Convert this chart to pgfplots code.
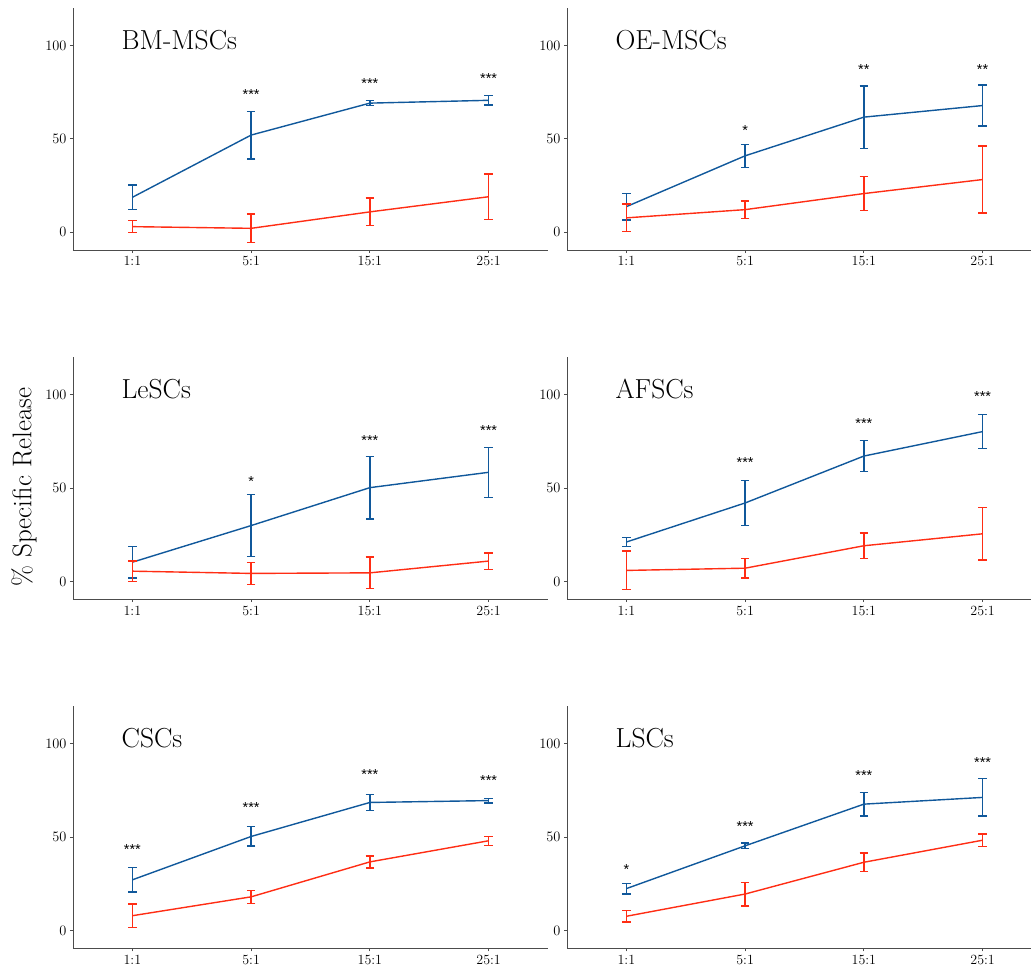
\documentclass[border=0pt]{standalone}
\usepackage{fontspec}
\usepackage{pgfplots}
\pgfplotsset{compat=1.18}
\newfontfamily\starfont{Liberation Sans}
\definecolor{cblue}{RGB}{16,88,155}
\definecolor{cred}{RGB}{255,45,20}

\pgfplotsset{
  panel/.style={
    scale only axis, width=475pt, height=242pt,
    xmin=-0.5, xmax=3.5, ymin=-9.5, ymax=120,
    axis x line*=bottom, axis y line*=left,
    axis line style={black!70, line width=0.9pt},
    xtick={0,1,2,3}, xticklabels={1:1,5:1,15:1,25:1},
    ytick={0,50,100},
    tick align=outside, major tick length=3pt,
    tick style={black!70, line width=0.8pt},
    tick label style={font=\fontsize{14}{14}\selectfont},
    clip=false,
  },
  errs/.style={
    error bars/.cd, y dir=both, y explicit,
    error bar style={line width=1.4pt, #1},
    error mark options={rotate=90, mark size=4.3pt, line width=1.4pt, #1},
  },
}
\newcommand{\ptitle}[1]{\node[anchor=base west, font=\fontsize{27.5}{27.5}\selectfont] at (axis cs:-0.12,97.9) {#1};}
\newcommand{\stars}[3]{\node[anchor=base, inner sep=0pt, font=\starfont\fontsize{14.5}{14.5}\selectfont] at (axis cs:#1,#2) {#3};}

\begin{document}
\begin{tikzpicture}

% BM-MSCs
\begin{axis}[panel, at={(73pt,-8pt)}, anchor=north west]
\addplot[cblue, line width=1.4pt, errs=cblue] coordinates {
  (0,18.7) +- (0,6.6) (1,52.0) +- (0,12.7) (2,69.1) +- (0,1.3) (3,70.6) +- (0,2.6)};
\addplot[cred, line width=1.4pt, errs=cred] coordinates {
  (0,3.0) +- (0,3.2) (1,2.1) +- (0,7.6) (2,10.9) +- (0,7.4) (3,19.0) +- (0,12.1)};
\ptitle{BM-MSCs}
\stars{1}{70.8}{***}\stars{2}{77.1}{***}\stars{3}{79.8}{***}
\end{axis}

% OE-MSCs
\begin{axis}[panel, at={(567pt,-8pt)}, anchor=north west]
\addplot[cblue, line width=1.4pt, errs=cblue] coordinates {
  (0,13.7) +- (0,7.1) (1,40.9) +- (0,6.1) (2,61.6) +- (0,16.7) (3,67.8) +- (0,10.9)};
\addplot[cred, line width=1.4pt, errs=cred] coordinates {
  (0,7.7) +- (0,7.4) (1,12.1) +- (0,4.7) (2,20.7) +- (0,9.1) (3,28.2) +- (0,18.0)};
\ptitle{OE-MSCs}
\stars{1}{51.7}{*}\stars{2}{84.6}{**}\stars{3}{84.6}{**}
\end{axis}

% LeSCs
\begin{axis}[panel, at={(73pt,-357.2pt)}, anchor=north west]
\addplot[cblue, line width=1.4pt, errs=cblue] coordinates {
  (0,10.3) +- (0,8.5) (1,29.9) +- (0,16.5) (2,50.2) +- (0,16.7) (3,58.4) +- (0,13.4)};
\addplot[cred, line width=1.4pt, errs=cred] coordinates {
  (0,5.5) +- (0,5.5) (1,4.3) +- (0,5.9) (2,4.6) +- (0,8.5) (3,10.9) +- (0,4.4)};
\ptitle{LeSCs}
\stars{1}{50.7}{*}\stars{2}{72.5}{***}\stars{3}{78.2}{***}
\end{axis}

% AFSCs
\begin{axis}[panel, at={(567pt,-357.2pt)}, anchor=north west]
\addplot[cblue, line width=1.4pt, errs=cblue] coordinates {
  (0,21.1) +- (0,2.4) (1,42.0) +- (0,11.9) (2,67.1) +- (0,8.4) (3,80.2) +- (0,9.1)};
\addplot[cred, line width=1.4pt, errs=cred] coordinates {
  (0,5.9) +- (0,10.3) (1,7.1) +- (0,5.3) (2,19.1) +- (0,6.9) (3,25.5) +- (0,14.0)};
\ptitle{AFSCs}
\stars{1}{61.0}{***}\stars{2}{82.1}{***}\stars{3}{96.2}{***}
\end{axis}

% CSCs
\begin{axis}[panel, at={(73pt,-706.4pt)}, anchor=north west]
\addplot[cblue, line width=1.4pt, errs=cblue] coordinates {
  (0,27.2) +- (0,6.6) (1,50.4) +- (0,5.2) (2,68.6) +- (0,4.2) (3,69.6) +- (0,1.2)};
\addplot[cred, line width=1.4pt, errs=cred] coordinates {
  (0,8.0) +- (0,6.2) (1,18.1) +- (0,3.5) (2,36.8) +- (0,3.2) (3,48.1) +- (0,2.4)};
\ptitle{CSCs}
\stars{0}{40.8}{***}\stars{1}{63.0}{***}\stars{2}{80.8}{***}\stars{3}{77.7}{***}
\end{axis}

% LSCs
\begin{axis}[panel, at={(567pt,-706.4pt)}, anchor=north west]
\addplot[cblue, line width=1.4pt, errs=cblue] coordinates {
  (0,22.5) +- (0,2.8) (1,45.4) +- (0,1.4) (2,67.7) +- (0,6.3) (3,71.3) +- (0,10.0)};
\addplot[cred, line width=1.4pt, errs=cred] coordinates {
  (0,7.7) +- (0,3.1) (1,19.6) +- (0,6.3) (2,36.6) +- (0,5.0) (3,48.4) +- (0,3.4)};
\ptitle{LSCs}
\stars{0}{29.8}{*}\stars{1}{53.0}{***}\stars{2}{80.3}{***}\stars{3}{87.5}{***}
\end{axis}

\node[rotate=90, font=\fontsize{27}{27}\selectfont] at (24pt,-487pt) {\% Specific Release};

\pgfresetboundingbox
\path[use as bounding box] (0pt,0pt) rectangle (1031pt,-969pt);
\end{tikzpicture}
\end{document}
